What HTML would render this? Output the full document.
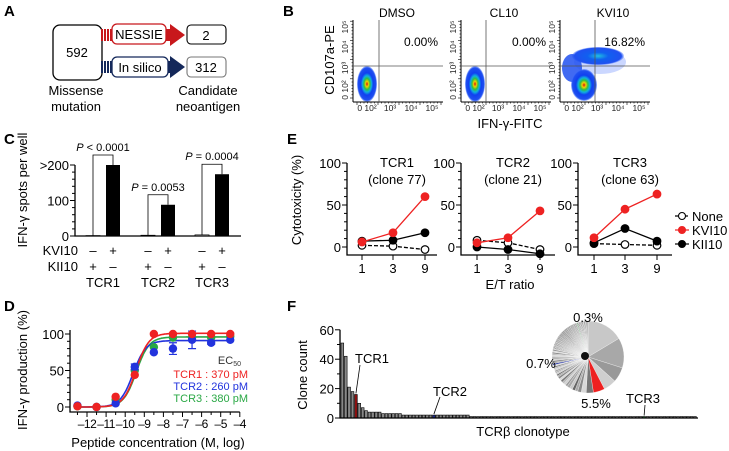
<!DOCTYPE html>
<html><head><meta charset="utf-8"><style>
body{margin:0;background:#fff}
svg{display:block;font-family:"Liberation Sans",Arial,sans-serif}
</style></head><body>
<svg id="fig" width="729" height="451" viewBox="0 0 729 451" xmlns="http://www.w3.org/2000/svg">
<defs>
<radialGradient id="dens" cx="50%" cy="50%" r="50%">
<stop offset="0" stop-color="#d01010"/><stop offset="0.15" stop-color="#f0d000"/><stop offset="0.3" stop-color="#30c040"/><stop offset="0.45" stop-color="#10b0e0"/><stop offset="0.62" stop-color="#1040f0"/><stop offset="0.9" stop-color="#2050f0"/><stop offset="1" stop-color="#4070ff" stop-opacity="0.4"/>
</radialGradient>
<radialGradient id="dens2" cx="50%" cy="50%" r="50%">
<stop offset="0" stop-color="#20c0e0"/><stop offset="0.4" stop-color="#1060f0"/><stop offset="0.9" stop-color="#2050f0"/><stop offset="1" stop-color="#4070ff" stop-opacity="0.3"/>
</radialGradient>
</defs>
<g font-weight="bold" font-size="15">
<text x="4" y="16">A</text><text x="283" y="16">B</text><text x="4" y="144">C</text><text x="287" y="144">E</text><text x="4" y="311">D</text><text x="287" y="311">F</text>
</g>
<!-- Panel A -->
<g font-size="13" text-anchor="middle">
<rect x="53" y="25" width="49" height="55" rx="7" fill="#fff" stroke="#000" stroke-width="1.3"/>
<text x="77" y="57">592</text>
<g fill="#c8181c">
<rect x="101" y="29" width="2" height="12"/><rect x="104" y="29" width="2" height="12"/><rect x="107" y="29" width="2" height="12"/><rect x="110" y="29" width="62" height="12"/>
<polygon points="170,24 185,35 170,46"/></g>
<rect x="112" y="24" width="54" height="20" rx="5" fill="#fff" stroke="#c8181c" stroke-width="1.3"/>
<text x="139" y="39">NESSIE</text>
<g fill="#14285a">
<rect x="101" y="61" width="2" height="12"/><rect x="104" y="61" width="2" height="12"/><rect x="107" y="61" width="2" height="12"/><rect x="110" y="61" width="62" height="12"/>
<polygon points="170,56 185,67 170,78"/></g>
<rect x="112" y="57" width="56" height="20" rx="5" fill="#fff" stroke="#14285a" stroke-width="1.3"/>
<text x="140" y="72">In silico</text>
<rect x="187" y="25" width="39" height="19" rx="4" fill="#fff" stroke="#000" stroke-width="1.1"/>
<text x="206" y="40">2</text>
<rect x="187" y="57" width="39" height="20" rx="4" fill="#fff" stroke="#777" stroke-width="1.1"/>
<text x="206" y="72">312</text>
<text x="76" y="95">Missense</text><text x="76" y="111">mutation</text>
<text x="208" y="95">Candidate</text><text x="208" y="111">neoantigen</text>
</g>
<g id="panelB"></g>
<g id="panelC"></g>
<g id="panelD"></g>
<g id="panelE"></g>
<g id="panelF"></g>
</svg>
<script>
// ---------- data ----------
const flowTitles = ["DMSO", "CL10", "KVI10"];
const flowPercents = ["0.00%", "0.00%", "16.82%"];
const cGroups = ["TCR1", "TCR2", "TCR3"];
const cKII10 = [1, 2, 3];
const cKVI10 = [200, 88, 174];
const cPvalues = ["P < 0.0001", "P = 0.0053", "P = 0.0004"];
const cTicks = [0, 100, 200];
const dConc = [-12.5, -11.5, -10.5, -9.5, -8.5, -7.5, -6.5, -5.5, -4.5];
const dTCR1 = [1, 0, 14, 44, 100, 100, 100, 100, 100];
const dTCR2 = [2, 0, 5, 55, 75, 80, 92, 88, 92];
const dTCR3 = [1, 0, 10, 50, 82, 95, 95, 95, 97];
const dErr2 = [0, 0, 0, 4, 0, 8, 12, 2, 0];
const dLogEC50 = [-9.43, -9.59, -9.42];
const dTop = [101, 91, 96];
const dXTicks = [-12, -11, -10, -9, -8, -7, -6, -5, -4];
const dYTicks = [0, 50, 100];
const eRatios = [1, 3, 9];
const eTitles = ["TCR1", "TCR2", "TCR3"];
const eClones = ["(clone 77)", "(clone 21)", "(clone 63)"];
const eNone = [[2, 1, -3], [8, 5, -3], [4, 3, 2]];
const eKVI10 = [[6, 17, 60], [5, 11, 43], [11, 45, 63]];
const eKII10 = [[7, 8, 17], [0, -3, -8], [5, 22, 7]];
const fCountsTop = [51, 42, 21, 18, 16, 10, 7, 5, 4, 4, 4, 4, 3, 3, 3, 3, 3, 3];
const fTwos = 20;
const fOnes = 67;
const fTicks = [0, 20, 40, 60];
const pieLabels = ["0.3%", "0.7%", "5.5%"];

const NS = "http://www.w3.org/2000/svg";
function el(parent, tag, attrs, text){const e=document.createElementNS(NS,tag);for(const k in attrs)e.setAttribute(k,attrs[k]);if(text!==undefined)e.textContent=text;parent.appendChild(e);return e;}

// ---------- Panel B ----------
(function(){
const g=document.getElementById('panelB');
const axX=[353,461,560], gateX=[379,486,595], top=20, bot=102, gateY=66, w=90;
const ylab=el(g,'text',{x:0,y:0,'font-size':13,'text-anchor':'middle',transform:'translate(334,60) rotate(-90)'},'CD107a-PE');


const xlab=el(g,'text',{x:510,y:128,'font-size':13,'text-anchor':'middle'},'IFN-γ-FITC');


flowTitles.forEach((t,i)=>{
 const x0=axX[i];
 const sub=el(g,'g',{});
 
 
 if(i===2){
  el(sub,'ellipse',{cx:600,cy:62,rx:26,ry:12,fill:'#3060ff',opacity:0.25});
  el(sub,'ellipse',{cx:598,cy:56,rx:26,ry:9,fill:'url(#dens2)'});
  el(sub,'ellipse',{cx:572,cy:68,rx:10,ry:14,fill:'#2050f0',opacity:0.85});
  el(sub,'ellipse',{cx:584,cy:85,rx:13,ry:16,fill:'url(#dens)'});
 } else {
  el(sub,'ellipse',{cx:x0+14,cy:84,rx:10,ry:18,fill:'url(#dens)'});
 }
 el(sub,'line',{x1:x0,y1:top,x2:x0,y2:bot,stroke:'#000','stroke-width':1});
 el(sub,'line',{x1:x0,y1:bot,x2:x0+w,y2:bot,stroke:'#000','stroke-width':1});
 for(let k=0;k<25;k++){el(sub,'line',{x1:x0+4+k*3.5,y1:bot,x2:x0+4+k*3.5,y2:bot+(k%6==0?3:1.5),stroke:'#000','stroke-width':0.6});
  el(sub,'line',{x1:x0,y1:bot-4-k*3.2,x2:x0-(k%6==0?3:1.5),y2:bot-4-k*3.2,stroke:'#000','stroke-width':0.6});}
 el(sub,'line',{x1:gateX[i],y1:top,x2:gateX[i],y2:bot,stroke:'#555','stroke-width':0.8});
 el(sub,'line',{x1:x0,y1:gateY,x2:x0+w,y2:gateY,stroke:'#555','stroke-width':0.8});
 const tt=el(sub,'text',{x:gateX[i]+18,y:17,'font-size':12,'text-anchor':'middle'},t);
 
 
 const pp=el(sub,'text',{x:x0+w-5,y:46,'font-size':12,'text-anchor':'end'},flowPercents[i]);
 
 
 [['0 10²',14],['10³',37],['10⁴',58],['10⁵',79]].forEach(([s,dx])=>el(sub,'text',{x:x0+dx,y:111,'font-size':8.5,'text-anchor':'middle',fill:'#222'},s));
 [['0 10²',90],['10³',68],['10⁴',47],['10⁵',27]].forEach(([s,dy])=>el(sub,'text',{x:0,y:0,'font-size':8.5,'text-anchor':'middle',fill:'#222',transform:`translate(${x0-5},${dy}) rotate(-90)`},s));
});
})();

// ---------- Panel C ----------
(function(){
const g=document.getElementById('panelC');
const x0=75, x1=241;
const yS=v=>236-v*0.355;
const ax=el(g,'path',{d:`M${x0},${yS(200)}V${yS(0)}H${x1}`,fill:'none',stroke:'#000','stroke-width':1.3});


for(let v=0;v<=200;v+=20)el(g,'line',{x1:x0,x2:x0-(v%100==0?5:3),y1:yS(v),y2:yS(v),stroke:'#000','stroke-width':1});
cTicks.forEach(v=>el(g,'text',{x:x0-6,y:yS(v)+5,'font-size':13,'text-anchor':'end'},v===200?'>200':String(v)));
const yt=el(g,'text',{x:0,y:0,'font-size':13,'text-anchor':'middle',transform:'translate(27,190) rotate(-90)'},'IFN-γ spots per well');


const cx=[93,148,202];
el(g,'text',{x:78,y:255,'font-size':13,'text-anchor':'end'},'KVI10');
el(g,'text',{x:78,y:271,'font-size':13,'text-anchor':'end'},'KII10');
cGroups.forEach((name,i)=>{
 const a=cx[i], b=a+20;
 const wb=el(g,'rect',{x:a-7,y:yS(cKII10[i]),width:14,height:yS(0)-yS(cKII10[i]),fill:'#fff',stroke:'#000','stroke-width':0.8});
 
 
 const bb=el(g,'rect',{x:b-7,y:yS(cKVI10[i]),width:14,height:yS(0)-yS(cKVI10[i]),fill:'#000'});
 
 
 const by=yS(Math.max(cKVI10[i],cKII10[i]))-10;
 el(g,'path',{d:`M${a},${yS(cKII10[i])}V${by}H${b}V${yS(cKVI10[i])}`,fill:'none',stroke:'#000','stroke-width':0.8});
 const pt=el(g,'text',{x:(a+b)/2,y:by-4,'font-size':11,'text-anchor':'middle'},'');
 
 
 const pv=cPvalues[i];
 el(pt,'tspan',{'font-style':'italic'},'P');
 el(pt,'tspan',{},pv.slice(1));
 el(g,'text',{x:a,y:255,'font-size':13,'text-anchor':'middle'},'–');
 el(g,'text',{x:b,y:255,'font-size':13,'text-anchor':'middle'},'+');
 el(g,'text',{x:a,y:271,'font-size':13,'text-anchor':'middle'},'+');
 el(g,'text',{x:b,y:271,'font-size':13,'text-anchor':'middle'},'–');
 const gl=el(g,'text',{x:a+10,y:287,'font-size':13,'text-anchor':'middle'},name);
 
 
});
})();

// ---------- Panel D ----------
(function(){
const g=document.getElementById('panelD');
const xS=v=>87+(v+12)*19.1, yS=v=>407-v*0.73;
const x0=70, yAx=412;
el(g,'path',{d:`M${x0},${yS(100)-4}V${yAx}H${xS(-4)}`,fill:'none',stroke:'#000','stroke-width':1.3});
for(let v=0;v<=100;v+=10)el(g,'line',{x1:x0,x2:x0-(v%50==0?5:3),y1:yS(v),y2:yS(v),stroke:'#000','stroke-width':1});
dYTicks.forEach(v=>el(g,'text',{x:x0-6,y:yS(v)+5,'font-size':13,'text-anchor':'end'},String(v)));
for(let v=-12.5;v<=-4;v+=0.5)el(g,'line',{x1:xS(v),x2:xS(v),y1:yAx,y2:yAx+(Number.isInteger(v)?5:3),stroke:'#000','stroke-width':1});
dXTicks.forEach(v=>el(g,'text',{x:xS(v),y:428,'font-size':12,'text-anchor':'middle','letter-spacing':'-0.5'},'–'+Math.abs(v)));
const xt=el(g,'text',{x:158,y:447,'font-size':13,'text-anchor':'middle'},'Peptide concentration (M, log)');


const yt=el(g,'text',{x:0,y:0,'font-size':13,'text-anchor':'middle',transform:'translate(27,370) rotate(-90)'},'IFN-γ production (%)');


const series=[dTCR3,dTCR2,dTCR1], cols=['#2aa845','#2233dd','#ee2222'], idx=[2,1,0];
series.forEach((s,k)=>{
 const i=idx[k];
 let d='';
 for(let x=-12.5;x<=-4.5;x+=0.05){const y=dTop[i]/(1+Math.pow(10,1.3*(dLogEC50[i]-x)));d+=(d?'L':'M')+xS(x).toFixed(1)+','+yS(y).toFixed(1);}
 const c=el(g,'path',{d,fill:'none',stroke:cols[k],'stroke-width':1.6});
 
 
});
series.forEach((s,k)=>{
 s.forEach((v,j)=>{
  if(k===1&&dErr2[j]){el(g,'path',{d:`M${xS(dConc[j])},${yS(v-dErr2[j])}V${yS(v+dErr2[j])}M${xS(dConc[j])-4},${yS(v-dErr2[j])}h8M${xS(dConc[j])-4},${yS(v+dErr2[j])}h8`,stroke:cols[k],'stroke-width':1.2,fill:'none'});}
  const p=el(g,'circle',{cx:xS(dConc[j]),cy:yS(v),r:4.2,fill:cols[k]});
  
  
 });
});
const leg=el(g,'g',{'font-size':11,'text-anchor':'end'});


const ec=el(leg,'text',{x:241,y:364,fill:'#333'},'EC');
el(ec,'tspan',{'font-size':7,dy:2},'50');
el(leg,'text',{x:248,y:378,fill:'#ee2222'},'TCR1 : 370 pM');
el(leg,'text',{x:248,y:390,fill:'#2233dd'},'TCR2 : 260 pM');
el(leg,'text',{x:248,y:402,fill:'#2aa845'},'TCR3 : 380 pM');
})();

// ---------- Panel E ----------
(function(){
const g=document.getElementById('panelE');
const axX=[347,461,578], tickX=[[362,393,425],[477,508,540],[594,625,657]], rightX=[437,555,672];
const yS=v=>247-v*0.84, yAx=255;
const yt=el(g,'text',{x:0,y:0,'font-size':13,'text-anchor':'middle',transform:'translate(301,200) rotate(-90)'},'Cytotoxicity (%)');


const xt=el(g,'text',{x:510,y:289,'font-size':13,'text-anchor':'middle'},'E/T ratio');


eTitles.forEach((t,p)=>{
 const sub=el(g,'g',{});
 
 
 const x0=axX[p];
 el(sub,'path',{d:`M${x0},${yS(100)}V${yAx}H${rightX[p]}`,fill:'none',stroke:'#000','stroke-width':1.3});
 for(let v=0;v<=100;v+=10)el(sub,'line',{x1:x0,x2:x0-(v%50==0?5:3),y1:yS(v),y2:yS(v),stroke:'#000','stroke-width':1});
 [0,50,100].forEach(v=>el(sub,'text',{x:x0-6,y:yS(v)+5,'font-size':13,'text-anchor':'end'},String(v)));
 eRatios.forEach((r,j)=>{el(sub,'line',{x1:tickX[p][j],x2:tickX[p][j],y1:yAx,y2:yAx+5,stroke:'#000','stroke-width':1});
  el(sub,'text',{x:tickX[p][j],y:273,'font-size':13,'text-anchor':'middle'},String(r));});
 const cx=(x0+rightX[p])/2+5;
 el(sub,'text',{x:cx,y:167,'font-size':13,'text-anchor':'middle'},t);
 el(sub,'text',{x:cx,y:184,'font-size':13,'text-anchor':'middle'},eClones[p]);
 const draw=(arr,col,fill,dash,name)=>{
  const pts=arr[p].map((v,j)=>tickX[p][j]+','+yS(v)).join(' ');
  const l=el(sub,'polyline',{points:pts,fill:'none',stroke:col,'stroke-width':1.3,'stroke-dasharray':dash});
  
  
  arr[p].forEach((v,j)=>{const c=el(sub,'circle',{cx:tickX[p][j],cy:yS(v),r:3.8,fill:fill,stroke:col,'stroke-width':1.2});
   
   });
 };
 draw(eNone,'#000','#fff','4,2','none');
 draw(eKII10,'#000','#000','none','kii10');
 draw(eKVI10,'#ee2222','#ee2222','none','kvi10');
});
const leg=el(g,'g',{'font-size':13});


[['None','#000','#fff','3,2',216],['KVI10','#ee2222','#ee2222','none',230],['KII10','#000','#000','none',244]].forEach(([n,c,f,d,y])=>{
 el(leg,'line',{x1:675,x2:689,y1:y,y2:y,stroke:c,'stroke-width':1.2,'stroke-dasharray':d});
 el(leg,'circle',{cx:682,cy:y,r:3.5,fill:f,stroke:c,'stroke-width':1.1});
 el(leg,'text',{x:692,y:y+5},n);
});
})();

// ---------- Panel F ----------
(function(){
const g=document.getElementById('panelF');
const counts=fCountsTop.concat(Array(fTwos).fill(2)).concat(Array(fOnes).fill(1));
const x0=340, x1=698, yS=v=>418-v*1.47;
const step=(x1-x0-2)/counts.length;
const idxTCR1=4, idxTCR2=27, idxTCR3=89;
counts.forEach((v,i)=>{
 let fill='#888'; if(i===idxTCR1)fill='#8b1010'; if(i===idxTCR2)fill='#1a2a8a'; if(i===idxTCR3)fill='#2a8a3a';
 const b=el(g,'rect',{x:x0+1+i*step,y:yS(v),width:step*0.8,height:yS(0)-yS(v),fill:fill,stroke:'#000','stroke-width':0.6});
 
 
});
el(g,'path',{d:`M${x0},${yS(60)}V${yS(0)}H${x1}`,fill:'none',stroke:'#000','stroke-width':1.3});
fTicks.forEach(v=>{el(g,'line',{x1:x0,x2:x0-5,y1:yS(v),y2:yS(v),stroke:'#000','stroke-width':1});
 if(v<60)el(g,'line',{x1:x0,x2:x0-3,y1:yS(v+10),y2:yS(v+10),stroke:'#000','stroke-width':1});
 el(g,'text',{x:x0-6,y:yS(v)+5,'font-size':13,'text-anchor':'end'},String(v));});
const yt=el(g,'text',{x:0,y:0,'font-size':13,'text-anchor':'middle',transform:'translate(307,375) rotate(-90)'},'Clone count');


const xt=el(g,'text',{x:523,y:436,'font-size':13,'text-anchor':'middle'},'TCRβ clonotype');


const callout=(i,lx,ly,tx,ty,label)=>{const bx=x0+1+i*step+step*0.4;
 el(g,'line',{x1:bx,y1:yS(counts[i])-1,x2:lx,y2:ly,stroke:'#000','stroke-width':0.8});
 const t=el(g,'text',{x:tx,y:ty,'font-size':13,'text-anchor':'middle'},label);
 
 };
callout(idxTCR1,360,365,372,363,'TCR1');
callout(idxTCR2,440,397,450,396,'TCR2');
callout(idxTCR3,645,405,643,403,'TCR3');
// pie
const total=counts.reduce((a,b)=>a+b,0);
const cx=588, cy=357, R=36;
let ang=0;
const pie=el(g,'g',{});


const grays=['#c8c8c8','#a8a8a8','#999','#cfcfcf','#b8b8b8','#777','#d8d8d8','#8a8a8a','#aaa','#666'];
counts.forEach((v,i)=>{
 const a0=ang, a1=ang+v/total*2*Math.PI; ang=a1;
 let fill=grays[i%grays.length];
 if(i>=40)fill=['#555','#888','#444','#999','#666'][i%5];
 if(i===idxTCR1)fill='#ee2020'; if(i===idxTCR2)fill='#1a2aa0'; if(i===idxTCR3)fill='#3a9a4a';
 const p=(a)=>[cx+R*Math.sin(a),cy-R*Math.cos(a)];
 const [xa,ya]=p(a0),[xb,yb]=p(a1);
 const s=el(pie,'path',{d:`M${cx},${cy}L${xa},${ya}A${R},${R} 0 ${a1-a0>Math.PI?1:0} 1 ${xb},${yb}Z`,fill,stroke:'#fff','stroke-width':0.3});
 
 
});
el(g,'circle',{cx:cx-3,cy:cy-1,r:4,fill:'#111'});
el(g,'text',{x:588,y:322,'font-size':13,'text-anchor':'middle'},pieLabels[0]);
el(g,'text',{x:541,y:368,'font-size':13,'text-anchor':'middle'},pieLabels[1]);
el(g,'text',{x:596,y:408,'font-size':13,'text-anchor':'middle'},pieLabels[2]);
})();
</script>
</body></html>
